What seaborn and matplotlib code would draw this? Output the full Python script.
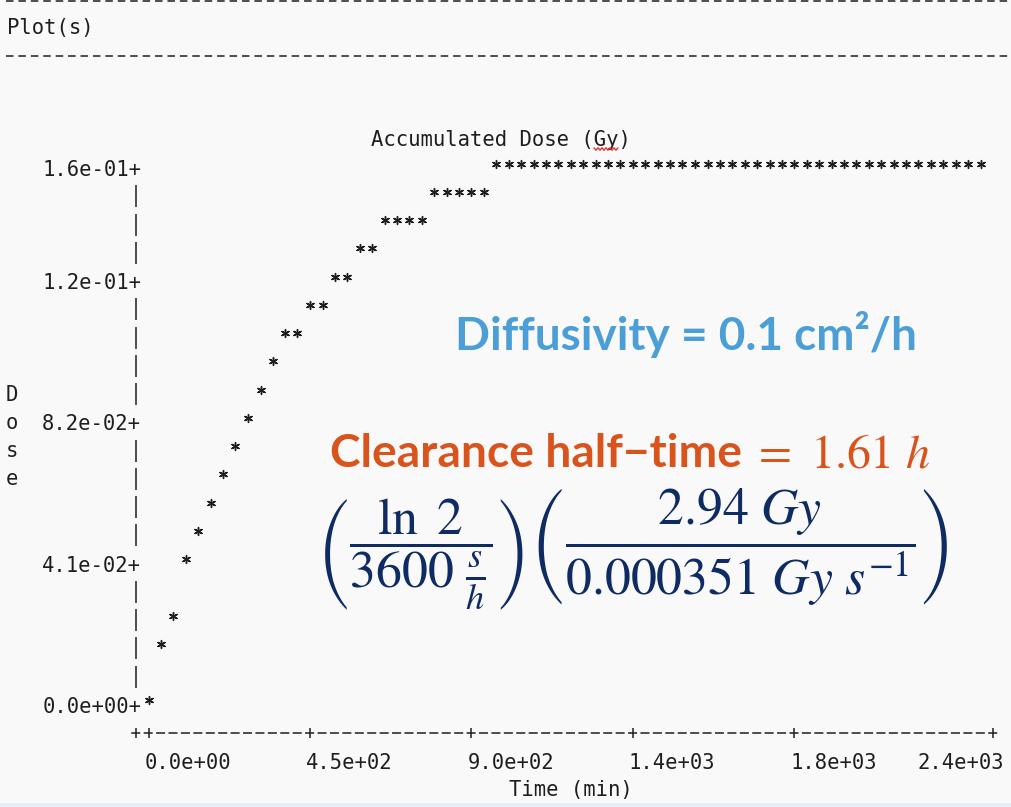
import numpy as np
import pandas as pd
import matplotlib
matplotlib.use("Agg")
import matplotlib.pyplot as plt
import seaborn as sns
from matplotlib.lines import Line2D
from matplotlib.patches import Rectangle
from matplotlib.transforms import ScaledTranslation

# ---------------------------------------------------------------------------
# Accumulated dose (Gy) against time (min), as printed on the text plot
# ---------------------------------------------------------------------------
time_min = [0, 35, 69, 104, 138, 173, 208, 242, 277, 312, 346, 381, 415, 450,
            485, 519, 554, 588, 623, 658, 692, 727, 762, 796, 831, 865, 900,
            935, 969, 1004, 1038, 1073, 1108, 1142, 1177, 1212, 1246, 1281,
            1315, 1350, 1385, 1419, 1454, 1488, 1523, 1558, 1592, 1627, 1662,
            1696, 1731, 1765, 1800, 1835, 1869, 1904, 1938, 1973, 2008, 2042,
            2077, 2112, 2146, 2181, 2215, 2250, 2285, 2319]
dose_gy = [0.0, 0.0164, 0.0246, 0.041, 0.0492, 0.0574, 0.0656, 0.0738, 0.082,
           0.0902, 0.0984, 0.1066, 0.1066, 0.1148, 0.1148, 0.123, 0.123,
           0.1312, 0.1312, 0.1394, 0.1394, 0.1394, 0.1394, 0.1476, 0.1476,
           0.1476, 0.1476, 0.1476, 0.1558, 0.1558, 0.1558, 0.1558, 0.1558,
           0.1558, 0.1558, 0.1558, 0.1558, 0.1558, 0.1558, 0.1558, 0.1558,
           0.1558, 0.1558, 0.1558, 0.1558, 0.1558, 0.1558, 0.1558, 0.1558,
           0.1558, 0.1558, 0.1558, 0.1558, 0.1558, 0.1558, 0.1558, 0.1558,
           0.1558, 0.1558, 0.1558, 0.1558, 0.1558, 0.1558, 0.1558, 0.1558,
           0.1558, 0.1558, 0.1558]

y_tick_values = [0.0, 0.041, 0.082, 0.123, 0.1558]
y_tick_labels = ["0.0e+00", "4.1e-02", "8.2e-02", "1.2e-01", "1.6e-01"]
x_tick_values = [0, 450, 900, 1350, 1800, 2354]
x_tick_labels = ["0.0e+00", "4.5e+02", "9.0e+02", "1.4e+03", "1.8e+03", "2.4e+03"]

header_text = "Plot(s)"
title_text = "Accumulated Dose (Gy)"
x_label = "Time (min)"
y_label = "Dose"
diffusivity_text = "Diffusivity = 0.1 cm²/h"
clearance_text = "Clearance half−time"
clearance_value = r"$=\ 1.61\ h$"
clearance_formula = (r"$\left(\dfrac{\ln\ 2}{3600\ \frac{s}{h}}\right)"
                     r"\left(\dfrac{2.94\ Gy}{0.000351\ Gy\ s^{-1}}\right)$")

# ---------------------------------------------------------------------------
# Character-cell geometry of the text plot
# ---------------------------------------------------------------------------
T_STEP = 450 / 13      # minutes per character column
D_STEP = 0.0082        # Gy per character row
COL_PX = 12.42
ROW_PX = 28.25

W_PX, H_PX = 1011, 807
BG = "#F9F9F9"
INK = "#1E1E1E"
ORANGE = "#D9531C"
BLUE = "#4B9FD6"
NAVY = "#0F2B63"
MONO_SIZE = 14.8

sns.set_style("white")
plt.rcParams.update({
    "font.family": ["DejaVu Sans Mono", "DejaVu Sans"],
    "lines.scale_dashes": False,
})


def fx(x):
    return np.asarray(x) / W_PX


def fy(y):
    return 1 - np.asarray(y) / H_PX


PX2PT = 0.72

fig = plt.figure(figsize=(W_PX / 100, H_PX / 100), dpi=100, facecolor=BG)

x_lo, x_hi = -T_STEP, x_tick_values[-1]
ax_left, ax_right = 136.15, 993.1
ax_bottom = 733.0
ax_top = ax_bottom - 20.5 * ROW_PX
ax = fig.add_axes([fx(ax_left), fy(ax_bottom),
                   (ax_right - ax_left) / W_PX, (ax_bottom - ax_top) / H_PX])
ax.set_facecolor(BG)

# asterisk markers for the data points
df = pd.DataFrame({"time": time_min, "dose": dose_gy})
sns.scatterplot(data=df, x="time", y="dose", ax=ax, marker=(6, 2, 0), s=32,
                color=INK, edgecolor=INK, linewidth=1.05, clip_on=False,
                zorder=3, legend=False)
stars = ax.collections[-1]
stars.set_offset_transform(ax.transData +
                           ScaledTranslation(0, 0.045, fig.dpi_scale_trans))

ax.set_xlim(x_lo, x_hi)
ax.set_ylim(-D_STEP, 19.5 * D_STEP)
ax.grid(False)

for side in ("top", "right", "left"):
    ax.spines[side].set_visible(False)

# x axis drawn as a row of dashes
half_dash = 3.75 * T_STEP / COL_PX
bottom = ax.spines["bottom"]
bottom.set_bounds(x_lo - half_dash, x_hi + half_dash)
bottom.set_linestyle((0, (7.5 * PX2PT, (COL_PX - 7.5) * PX2PT)))
bottom.set_linewidth(1.1)
bottom.set_color(INK)

# y axis drawn as a column of bars between labelled rows
tick_rows = {int(round(v / D_STEP)) for v in y_tick_values}
bar_levels = [k * D_STEP for k in range(1, 19) if k not in tick_rows]
ax.plot([x_lo] * len(bar_levels), bar_levels, ls="none", marker="|",
        ms=22 * PX2PT, mew=1.1, color=INK, clip_on=False)

ax.set_yticks(y_tick_values, labels=[s + "+" for s in y_tick_labels])
ax.tick_params(axis="y", left=False, length=0, pad=-3.6,
               labelsize=MONO_SIZE, labelcolor=INK)

ax.set_xticks(x_tick_values, labels=x_tick_labels)
ax.set_xticks([x_lo], minor=True)
ax.tick_params(axis="x", which="both", bottom=True, direction="inout",
               length=6.5, width=1.1, color=INK, pad=11,
               labelsize=MONO_SIZE, labelcolor=INK)
xlabels = ax.get_xticklabels()
for i, lab in enumerate(xlabels):
    if i == len(xlabels) - 1:
        lab.set_ha("right")
        dx = 11.0
    else:
        lab.set_ha("left")
        dx = -4.2
    lab.set_transform(lab.get_transform() +
                      ScaledTranslation(dx / 100, 0, fig.dpi_scale_trans))

span_w = ax_right - ax_left
span_h = ax_bottom - ax_top
ax.set_title(title_text, x=(501 - ax_left) / span_w,
             y=1 + (ax_top - 140) / span_h, pad=0, va="center",
             fontsize=MONO_SIZE, color=INK)
ax.set_xlabel(x_label, fontsize=MONO_SIZE, color=INK)
ax.xaxis.set_label_coords((571 - ax_left) / span_w, (ax_bottom - 790) / span_h)
ax.xaxis.label.set_va("center")
ax.set_ylabel("\n".join(y_label), rotation=0, fontsize=MONO_SIZE, color=INK,
              linespacing=1.5, ha="center", va="center")
ax.yaxis.set_label_coords((12 - ax_left) / span_w, (ax_bottom - 436.6) / span_h)

# console header
fig.text(fx(7), fy(28), header_text, ha="left", va="center",
         fontsize=MONO_SIZE, color=INK)
for yy in (1.0, 55.5):
    fig.add_artist(Line2D([fx(5.8), 1.0], [fy(yy), fy(yy)],
                          transform=fig.transFigure, color=INK, lw=1.1,
                          ls=(0, (7.5 * PX2PT, (COL_PX - 7.5) * PX2PT))))

# spell-check underline beneath "Gy"
sq_x = np.linspace(594, 618, 13)
sq_y = 149 + np.where(np.arange(13) % 2 == 0, -1.2, 1.2)
fig.add_artist(Line2D(fx(sq_x), fy(sq_y), transform=fig.transFigure,
                      color="#E8322E", lw=1.0))

# status strip along the bottom edge
fig.add_artist(Rectangle((0, 0), 1, fy(803), transform=fig.transFigure,
                         facecolor="#E3EEF7", edgecolor="none"))

# annotations
fig.text(fx(455), fy(350), diffusivity_text, family=["Lato", "DejaVu Sans"],
         weight="bold", fontsize=33, color=BLUE, ha="left", va="baseline")
fig.text(fx(330), fy(467), clearance_text, family=["Lato", "DejaVu Sans"],
         weight="bold", fontsize=33.2, color=ORANGE, ha="left", va="baseline")
fig.text(fx(752), fy(467), clearance_value, math_fontfamily="stix",
         fontsize=34.5, color=ORANGE, ha="left", va="baseline")
fig.text(fx(316), fy(549), clearance_formula, math_fontfamily="stix",
         fontsize=37.3, color=NAVY, ha="left", va="center")

fig.savefig("out.png", dpi=100, facecolor=BG)
